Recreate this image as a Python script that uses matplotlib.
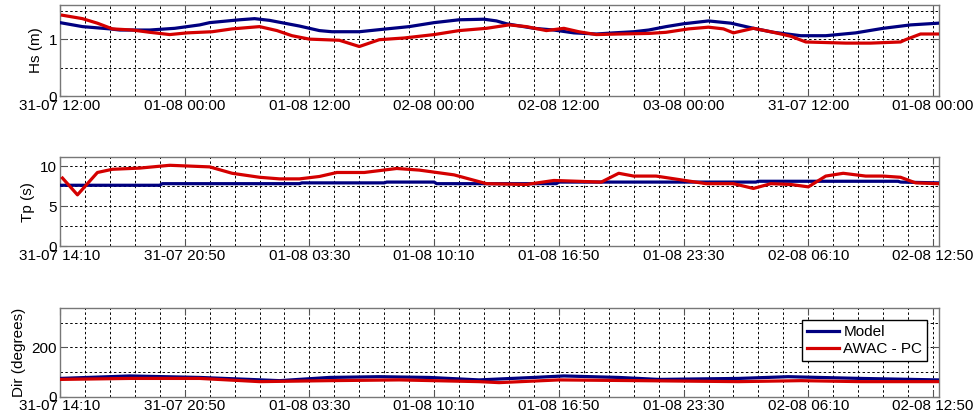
import matplotlib
matplotlib.use("Agg")
import matplotlib.pyplot as plt
from matplotlib.ticker import MultipleLocator, FixedLocator

plt.rcParams['font.family'] = ['Liberation Sans', 'DejaVu Sans']

# --- data (x is sample index along the record) ---
hs_model_x = [0, 9, 20, 24, 36, 46, 56, 60, 72, 78, 84, 96, 104, 109, 120, 131, 140, 150, 160, 170,
              175, 179, 190, 198, 206, 215, 222, 230, 236, 243, 250, 260, 269, 277, 286, 297, 307,
              319, 330, 341, 352]
hs_model = [1.29, 1.22, 1.18, 1.16, 1.16, 1.19, 1.25, 1.29, 1.34, 1.36, 1.33, 1.23, 1.15, 1.13, 1.13,
            1.18, 1.22, 1.29, 1.34, 1.35, 1.32, 1.27, 1.19, 1.16, 1.11, 1.09, 1.11, 1.13, 1.16, 1.22,
            1.27, 1.32, 1.28, 1.20, 1.12, 1.06, 1.06, 1.11, 1.19, 1.25, 1.28]
hs_awac_x = [1, 9, 15, 21, 29, 36, 44, 51, 61, 69, 80, 87, 93, 100, 106, 112, 120, 128, 138, 150, 160,
             171, 180, 187, 195, 202, 208, 215, 224, 236, 243, 252, 260, 266, 270, 278, 286, 293,
             299, 315, 325, 337, 339, 345, 352]
hs_awac = [1.42, 1.36, 1.28, 1.18, 1.16, 1.12, 1.08, 1.11, 1.13, 1.18, 1.22, 1.15, 1.06, 1.00, 0.99,
           0.98, 0.87, 0.99, 1.02, 1.08, 1.15, 1.19, 1.25, 1.22, 1.15, 1.19, 1.13, 1.08, 1.09, 1.10,
           1.12, 1.18, 1.21, 1.18, 1.11, 1.19, 1.12, 1.05, 0.95, 0.93, 0.93, 0.95, 0.99, 1.09, 1.09]

tp_model_x = [0, 40, 41, 96, 97, 130, 131, 150, 151, 199, 200, 279, 280, 336, 337, 352]
tp_model = [7.6, 7.6, 7.8, 7.8, 7.9, 7.9, 8.0, 8.0, 7.8, 7.8, 8.0, 8.0, 8.1, 8.1, 8.0, 7.9]
tp_awac_x = [1, 7, 15, 21, 32, 44, 60, 69, 80, 88, 96, 104, 111, 122, 135, 144, 158, 171, 187, 198,
             217, 224, 230, 239, 259, 270, 278, 285, 293, 300, 307, 314, 323, 330, 337, 343, 352]
tp_awac = [8.5, 6.4, 9.2, 9.6, 9.75, 10.1, 9.9, 9.1, 8.6, 8.4, 8.4, 8.7, 9.2, 9.2, 9.7, 9.5, 8.9, 7.8,
           7.7, 8.2, 8.0, 9.1, 8.75, 8.75, 7.8, 7.8, 7.2, 7.8, 7.7, 7.4, 8.75, 9.1, 8.75, 8.75, 8.6,
           7.9, 7.8]

dir_model_x = [0, 28, 56, 76, 88, 108, 128, 148, 168, 190, 202, 224, 240, 272, 292, 321, 352]
dir_model = [74, 84, 78, 70, 65, 78, 81, 78, 68, 78, 84, 78, 70, 74, 81, 74, 68]
dir_awac_x = [0, 28, 56, 80, 108, 136, 168, 176, 200, 232, 272, 297, 321, 352]
dir_awac = [70, 74, 74, 61, 65, 68, 61, 57, 68, 65, 61, 65, 61, 61]

hs_labels = ['31-07 12:00', '01-08 00:00', '01-08 12:00', '02-08 00:00', '02-08 12:00',
             '03-08 00:00', '31-07 12:00', '01-08 00:00']
tp_labels = ['31-07 14:10', '31-07 20:50', '01-08 03:30', '01-08 10:10', '01-08 16:50',
             '01-08 23:30', '02-08 06:10', '02-08 12:50']
dir_labels = tp_labels

model_color = '#000080'
awac_color = '#d40000'

fig = plt.figure(figsize=(9.77, 4.19), dpi=100)
left, width = 60 / 977, 879 / 977
rects = [
    (left, 1 - 96 / 419, width, 91 / 419),
    (left, 1 - 246 / 419, width, 88.7 / 419),
    (left, 1 - 396.7 / 419, width, 88.4 / 419),
]

panels = [
    (hs_model_x, hs_model, hs_awac_x, hs_awac, hs_labels, 'Hs (m)', (0, 1.6), 1, 0.5),
    (tp_model_x, tp_model, tp_awac_x, tp_awac, tp_labels, 'Tp (s)', (0, 11.1), 5, 2.5),
    (dir_model_x, dir_model, dir_awac_x, dir_awac, dir_labels, 'Dir (degrees)', (0, 358), 200, 100),
]

axes = []
for rect, (mx, my, ax_, ay, labels, ylab, ylim, major, minor) in zip(rects, panels):
    ax = fig.add_axes(rect)
    ax.plot(mx, my, color=model_color, lw=2.3, label='Model', zorder=3)
    ax.plot(ax_, ay, color=awac_color, lw=2.3, label='AWAC - PC', zorder=4)
    ax.set_xlim(0, 352.4)
    ax.set_ylim(*ylim)
    ax.xaxis.set_major_locator(FixedLocator([0, 50, 100, 150, 200, 250, 300, 350]))
    ax.xaxis.set_minor_locator(MultipleLocator(10))
    ax.set_xticklabels(labels)
    ax.yaxis.set_major_locator(MultipleLocator(major))
    ax.yaxis.set_minor_locator(MultipleLocator(minor))
    ax.grid(which='both', color='black', linestyle=(0, (2.5, 2.5)), linewidth=0.7, zorder=0)
    ax.tick_params(which='both', direction='in', top=True, right=True, colors='#555555',
                   labelcolor='black', labelsize=11, pad=2)
    ax.tick_params(which='major', length=5)
    ax.tick_params(which='minor', length=0)
    for s in ax.spines.values():
        s.set_color('#777777')
        s.set_linewidth(1.0)
    ax.set_ylabel(ylab, fontsize=11, labelpad=4)
    axes.append(ax)

axes[2].legend(loc='upper right', bbox_to_anchor=(0.995, 0.95), fontsize=11, fancybox=False,
               edgecolor='black', framealpha=1, handlelength=2.1, borderpad=0.3,
               labelspacing=0.2, handletextpad=0.3)

fig.savefig('out.png', dpi=100)
